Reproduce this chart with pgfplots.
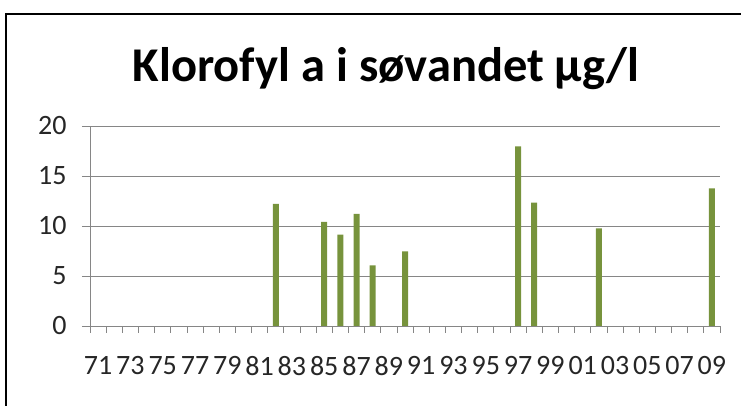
\documentclass[border=0pt]{standalone}
\usepackage{pgfplots}
\pgfplotsset{compat=1.18}
\usepackage{fontspec}
\setmainfont{Carlito}
\definecolor{bargreen}{RGB}{119,147,60}
\definecolor{gridgray}{RGB}{134,134,134}
\begin{document}
\begin{tikzpicture}[x=1pt,y=1pt]
\useasboundingbox (0,0) rectangle (741,406);
\draw[line width=2.2pt] (6,-20) -- (6,392) -- (780,392);
\node[anchor=base,font=\fontsize{48.5}{54}\selectfont\bfseries] at (386,324) {Klorofyl a i søvandet µg/l};
\begin{axis}[
  at={(90pt,80pt)}, anchor=south west, scale only axis,
  width=630pt, height=200pt,
  xmin=-0.5, xmax=38.5, ymin=0, ymax=20,
  ybar, bar width=6pt,
  axis lines*=left,
  axis line style={gridgray, line width=0.8pt},
  xtick={0,2,...,38},
  xticklabels={71,73,75,77,79,81,83,85,87,89,91,93,95,97,99,01,03,05,07,09},
  minor xtick={-0.5,0.5,...,38.5},
  major x tick style={draw=none},
  tick align=outside,
  minor tick length=7pt, major tick length=8pt,
  ytick={0,5,10,15,20},
  ymajorgrids, grid style={gridgray, line width=0.8pt},
  tick style={gridgray, line width=0.8pt},
  ticklabel style={font=\fontsize{28}{30}\selectfont, text=black!85},
  xticklabel style={yshift=-19pt},
  yticklabel style={xshift=-12pt},
  /pgf/number format/assume math mode=true,
  clip=false,
]
\addplot[fill=bargreen, draw=none] coordinates {
  (11,12.2) (14,10.4) (15,9.13) (16,11.2) (17,6.07) (19,7.47)
  (26,17.97) (27,12.33) (31,9.77) (38,13.77)
};
\end{axis}
\end{tikzpicture}
\end{document}
